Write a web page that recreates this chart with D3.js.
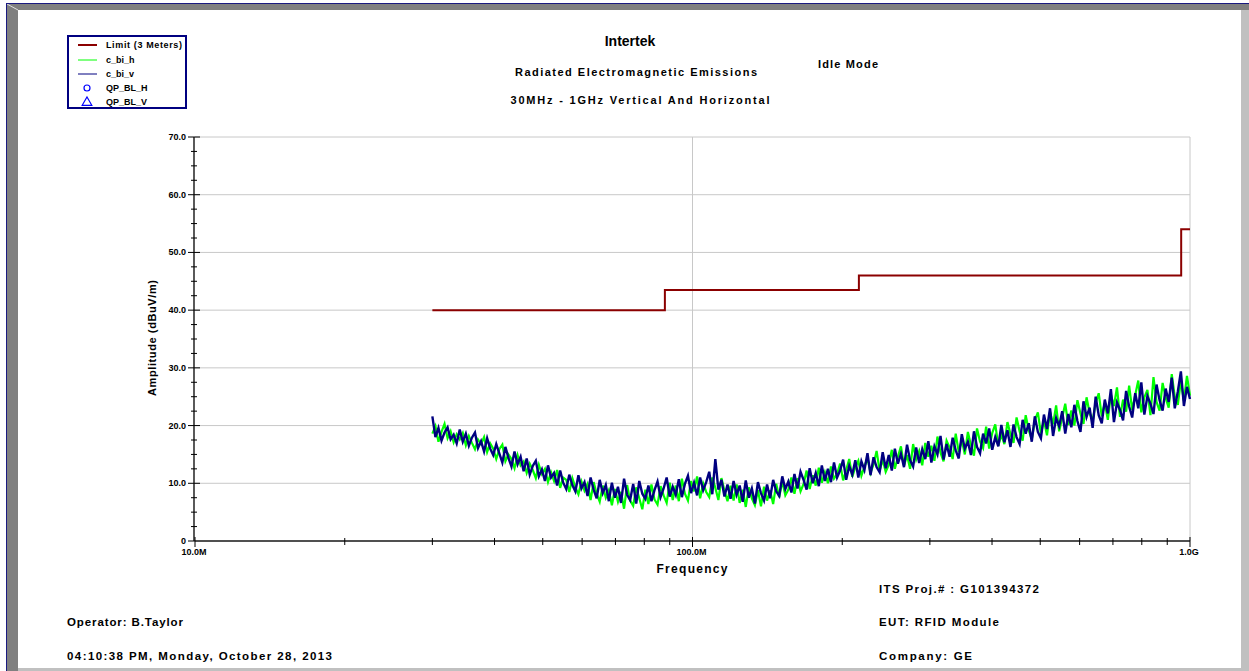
<!DOCTYPE html>
<html>
<head>
<meta charset="utf-8">
<script src="https://cdn.jsdelivr.net/npm/d3@7"></script>
<style>
  body { margin: 0; background: #fff; }
  text { font-family: Arial, "Liberation Sans", sans-serif; font-weight: bold; fill: #000; }
</style>
</head>
<body>
<div id="chart"></div>
<script>
// ---- data ----
var yTickValues = [0, 10, 20, 30, 40, 50, 60, 70];
var yTickLabels = ["0", "10.0", "20.0", "30.0", "40.0", "50.0", "60.0", "70.0"];
var xTickValues = [10, 100, 1000];           // MHz
var xTickLabels = ["10.0M", "100.0M", "1.0G"];

// limit line (3 meters), step after each frequency
var limitFreqs = [30, 88, 216, 960, 1000];
var limitValues = [40, 43.5, 46, 54, 54];

// sweep 30 MHz .. 1 GHz
var sweepStartMHz = 30;
var sweepStopMHz = 1000;

var cBiV = [
  21.6, 18.0, 19.6, 17.4, 18.8, 19.7, 17.6, 18.4, 16.9, 19.3,
  17.2, 18.6, 16.5, 17.9, 18.8, 16.1, 17.3, 15.5, 17.8, 16.0,
  14.9, 16.8, 15.2, 13.6, 16.3, 14.4, 12.9, 15.5, 13.3, 14.6,
  12.1, 14.3, 11.5, 13.0, 13.9, 11.2, 12.4, 10.4, 13.1, 11.0,
  11.8, 9.6, 12.2, 10.1, 9.0, 11.5, 9.7, 8.6, 11.4, 9.1,
  10.2, 7.8, 11.0, 8.9, 7.4, 10.6, 8.3, 9.7, 6.9, 10.1,
  7.5, 9.4, 6.6, 10.8, 8.0, 7.1, 9.9, 6.5, 10.4, 8.2,
  7.3, 9.6, 6.9, 8.8, 10.3, 7.6, 9.1, 11.0, 7.7, 9.4,
  8.0, 10.7, 7.6, 9.9, 11.3, 8.3, 10.1, 7.9, 11.0, 8.8,
  10.2, 12.0, 8.1, 14.2, 8.9, 10.6, 7.7, 9.8, 7.3, 10.4,
  8.0, 9.6, 6.8, 10.5, 7.5, 9.1, 6.5, 10.2, 8.3, 7.0,
  9.8, 7.4, 10.6, 8.6, 7.8, 11.2, 9.0, 10.3, 8.4, 11.6,
  9.1, 12.0, 10.6, 8.9, 12.6, 10.0, 11.8, 9.5, 13.1, 10.4,
  12.5, 10.2, 13.6, 11.0, 12.2, 14.1, 10.6, 13.0, 11.5, 14.0,
  11.0, 13.8, 12.3, 15.2, 11.4, 14.5, 12.8, 11.9, 15.4, 12.6,
  14.9, 12.2, 16.0, 13.4, 15.1, 12.8, 16.7, 14.0, 12.9, 16.2,
  13.5, 15.9, 14.2, 17.3, 13.6, 16.4, 15.0, 18.2, 14.1, 16.8,
  14.6, 17.9, 15.7, 14.3, 18.5, 16.0, 17.2, 14.9, 19.0, 16.3,
  15.2, 18.6, 16.9, 19.5, 15.8, 18.0, 16.4, 20.1, 17.1, 19.2,
  16.3, 20.2, 18.0, 16.8, 21.0, 18.6, 20.4, 17.2, 21.6, 18.9,
  17.8, 21.9, 19.4, 23.0, 18.2, 21.3, 19.9, 22.5, 18.6, 22.0,
  19.7, 23.6, 20.8, 18.9, 24.2, 21.5, 23.1, 19.6, 25.0, 21.8,
  20.4, 24.5, 22.1, 26.3, 20.6, 24.0, 22.7, 20.9, 26.0, 23.3,
  21.4, 25.6, 23.0, 27.5, 21.9, 25.1, 23.8, 22.0, 27.1, 24.4,
  22.6, 26.4, 24.1, 28.3, 23.0, 25.9, 29.4, 23.4, 26.7, 24.6
];

var cBiH = [
  18.6, 19.9, 17.2, 18.9, 20.3, 17.8, 19.0, 17.1, 18.5, 17.6,
  18.7, 16.6, 18.2, 17.0, 15.9, 17.6, 16.8, 18.0, 15.4, 16.9,
  16.0, 14.2, 15.9, 16.7, 13.8, 15.0, 14.2, 12.6, 14.9, 13.1,
  13.8, 11.8, 13.4, 12.3, 10.9, 13.2, 11.6, 12.5, 10.2, 11.9,
  10.4, 12.3, 9.2, 11.0, 10.6, 8.5, 10.9, 9.3, 8.1, 10.3,
  8.7, 9.9, 7.1, 10.2, 8.2, 6.8, 9.6, 7.5, 8.8, 6.2,
  9.0, 6.8, 8.5, 5.6, 9.7, 7.0, 6.1, 9.3, 7.4, 5.5,
  8.9, 6.4, 9.8, 7.2, 6.3, 9.5, 7.9, 6.6, 10.1, 7.1,
  9.6, 6.9, 10.8, 8.2, 7.0, 10.4, 8.6, 11.2, 7.4, 10.0,
  8.5, 7.6, 11.0, 9.2, 7.1, 10.9, 8.7, 6.9, 9.6, 7.0,
  9.8, 6.6, 8.9, 5.9, 9.3, 7.4, 6.2, 8.8, 6.0, 9.4,
  7.0, 8.8, 6.4, 9.9, 7.6, 10.4, 7.9, 8.9, 11.0, 8.2,
  10.9, 8.6, 9.9, 12.2, 9.0, 11.4, 9.6, 12.7, 10.1, 11.9,
  10.0, 12.9, 10.8, 11.6, 13.4, 10.5, 12.3, 14.2, 11.1, 12.8,
  13.9, 11.3, 12.9, 14.4, 11.8, 13.3, 15.6, 12.2, 14.1, 12.0,
  13.2, 15.8, 12.5, 14.6, 16.4, 13.0, 14.9, 12.5, 16.8, 14.1,
  15.6, 13.1, 17.0, 14.6, 16.5, 13.9, 18.1, 15.3, 13.8, 17.4,
  16.2, 14.2, 18.6, 15.4, 17.5, 15.0, 18.9, 16.6, 14.8, 19.5,
  17.2, 16.1, 19.8, 16.0, 18.7, 20.2, 16.5, 18.4, 16.8, 20.6,
  18.5, 17.0, 21.4, 19.0, 17.4, 21.8, 19.2, 17.6, 20.9, 22.3,
  18.6, 20.9, 18.3, 22.4, 20.2, 23.5, 19.0, 21.4, 23.8, 20.1,
  22.6, 20.0, 24.4, 22.1, 20.3, 24.9, 22.2, 20.8, 23.9, 25.6,
  21.6, 23.9, 21.0, 25.4, 23.4, 26.6, 21.5, 24.5, 22.4, 26.9,
  22.7, 25.3, 27.8, 22.3, 24.9, 26.2, 21.8, 28.4, 24.1, 22.6,
  27.4, 24.8, 23.1, 28.9, 25.0, 23.6, 27.8, 24.3, 28.6, 25.2
];

var legendNames = ["Limit (3 Meters)", "c_bi_h", "c_bi_v", "QP_BL_H", "QP_BL_V"];

// ---- drawing ----
var W = 1249, H = 671;
var svg = d3.select("#chart").append("svg")
    .attr("width", W)
    .attr("height", H);

// window frame
svg.append("rect").attr("x", 0).attr("y", 0).attr("width", W).attr("height", H).attr("fill", "#fff");
svg.append("rect").attr("x", 6).attr("y", 3).attr("width", W - 6).attr("height", 7).attr("fill", "#808080");
svg.append("rect").attr("x", 6).attr("y", 3).attr("width", 12).attr("height", H - 3).attr("fill", "#808080");
svg.append("rect").attr("x", 1241).attr("y", 10).attr("width", 8).attr("height", H - 10).attr("fill", "#c0c0c0");
svg.append("rect").attr("x", 18).attr("y", 668).attr("width", W - 18).attr("height", 3).attr("fill", "#c0c0c0");
svg.append("line").attr("x1", 7).attr("y1", 4).attr("x2", 18).attr("y2", 10).attr("stroke", "#e0e0e0").attr("stroke-width", 1);
svg.append("line").attr("x1", 6).attr("y1", 3.5).attr("x2", W).attr("y2", 3.5).attr("stroke", "#1a1a80").attr("stroke-width", 1);
svg.append("line").attr("x1", 6.5).attr("y1", 3).attr("x2", 6.5).attr("y2", H).attr("stroke", "#1a1a80").attr("stroke-width", 1);

var xScale = d3.scaleLog()
    .domain([10, 1000])
    .range([195, 1190]);

var yScale = d3.scaleLinear()
    .domain([0, 70])
    .range([541, 137]);

// grid
svg.selectAll(".hgrid")
    .data(yTickValues.filter(function (d) { return d > 0; }))
    .enter().append("line")
    .attr("x1", xScale(10)).attr("x2", xScale(1000))
    .attr("y1", function (d) { return yScale(d); })
    .attr("y2", function (d) { return yScale(d); })
    .attr("stroke", "#c8c8c8").attr("stroke-width", 1);

svg.selectAll(".vgrid")
    .data([100, 1000])
    .enter().append("line")
    .attr("x1", function (d) { return xScale(d); })
    .attr("x2", function (d) { return xScale(d); })
    .attr("y1", yScale(70)).attr("y2", yScale(0))
    .attr("stroke", "#c8c8c8").attr("stroke-width", 1);

// y axis
var yAxisX = xScale(10) - 1;
svg.append("line")
    .attr("x1", yAxisX).attr("x2", yAxisX)
    .attr("y1", yScale(70)).attr("y2", yScale(0))
    .attr("stroke", "#000").attr("stroke-width", 1.3);

svg.selectAll(".yminor")
    .data(d3.range(0, 70.01, 2.5).filter(function (d) { return d % 10 !== 0; }))
    .enter().append("line")
    .attr("x1", yAxisX - 3).attr("x2", yAxisX + 3)
    .attr("y1", function (d) { return yScale(d); })
    .attr("y2", function (d) { return yScale(d); })
    .attr("stroke", "#000").attr("stroke-width", 1);

svg.selectAll(".ymajor")
    .data(yTickValues)
    .enter().append("line")
    .attr("x1", yAxisX - 6).attr("x2", yAxisX + 6)
    .attr("y1", function (d) { return yScale(d); })
    .attr("y2", function (d) { return yScale(d); })
    .attr("stroke", "#000").attr("stroke-width", 1);

svg.selectAll(".ylabel")
    .data(yTickValues)
    .enter().append("text")
    .attr("x", yAxisX - 8)
    .attr("y", function (d) { return yScale(d) + 3; })
    .attr("text-anchor", "end")
    .style("font-size", "9px")
    .text(function (d, i) { return yTickLabels[i]; });

// x axis
svg.append("line")
    .attr("x1", xScale(10)).attr("x2", xScale(1000))
    .attr("y1", yScale(0)).attr("y2", yScale(0))
    .attr("stroke", "#505050").attr("stroke-width", 2);

var xMinor = [];
[10, 100].forEach(function (dec) {
    for (var k = 2; k <= 9; k++) xMinor.push(dec * k);
});

svg.selectAll(".xminor")
    .data(xMinor)
    .enter().append("line")
    .attr("x1", function (d) { return xScale(d); })
    .attr("x2", function (d) { return xScale(d); })
    .attr("y1", yScale(0) - 3).attr("y2", yScale(0) + 4)
    .attr("stroke", "#000").attr("stroke-width", 1);

svg.selectAll(".xmajor")
    .data(xTickValues)
    .enter().append("line")
    .attr("x1", function (d) { return xScale(d); })
    .attr("x2", function (d) { return xScale(d); })
    .attr("y1", yScale(0) - 4).attr("y2", yScale(0) + 6)
    .attr("stroke", "#000").attr("stroke-width", 1);

svg.selectAll(".xlabel")
    .data(xTickValues)
    .enter().append("text")
    .attr("x", function (d) { return xScale(d) - 1; })
    .attr("y", yScale(0) + 14)
    .attr("text-anchor", "middle")
    .style("font-size", "9px")
    .text(function (d, i) { return xTickLabels[i]; });

// axis titles
svg.append("text")
    .attr("x", 692).attr("y", 573)
    .attr("text-anchor", "middle")
    .attr("textLength", 71).attr("lengthAdjust", "spacing")
    .style("font-size", "12px")
    .text("Frequency");

svg.append("text")
    .attr("transform", "translate(156,338) rotate(-90)")
    .attr("text-anchor", "middle")
    .attr("textLength", 116).attr("lengthAdjust", "spacing")
    .style("font-size", "11px")
    .text("Amplitude (dBuV/m)");

// traces, points on a log-spaced sweep grid between start and stop
function sweepFreq(i, n) {
    return sweepStartMHz * Math.pow(sweepStopMHz / sweepStartMHz, i / (n - 1));
}

var trace = d3.line()
    .x(function (d, i, arr) { return xScale(sweepFreq(i, arr.length)); })
    .y(function (d) { return yScale(d); });

svg.append("path")
    .datum(cBiH)
    .attr("d", trace)
    .attr("fill", "none")
    .attr("stroke", "#00ff00")
    .attr("stroke-width", 2.2);

svg.append("path")
    .datum(cBiV)
    .attr("d", trace)
    .attr("fill", "none")
    .attr("stroke", "#000080")
    .attr("stroke-width", 2.4);

// limit line
var limitLine = d3.line()
    .x(function (d) { return xScale(d); })
    .y(function (d, i) { return yScale(limitValues[i]); })
    .curve(d3.curveStepAfter);

svg.append("path")
    .datum(limitFreqs)
    .attr("d", limitLine)
    .attr("fill", "none")
    .attr("stroke", "#8b0000")
    .attr("stroke-width", 2);

// titles
svg.append("text").attr("x", 630).attr("y", 46).attr("text-anchor", "middle")
    .style("font-size", "14px").text("Intertek");
svg.append("text").attr("x", 636).attr("y", 76).attr("text-anchor", "middle")
    .attr("textLength", 242).attr("lengthAdjust", "spacing")
    .style("font-size", "11px").text("Radiated Electromagnetic Emissions");
svg.append("text").attr("x", 640).attr("y", 104).attr("text-anchor", "middle")
    .attr("textLength", 259).attr("lengthAdjust", "spacing")
    .style("font-size", "11px").text("30MHz - 1GHz Vertical And Horizontal");
svg.append("text").attr("x", 848).attr("y", 68).attr("text-anchor", "middle")
    .attr("textLength", 60).attr("lengthAdjust", "spacing")
    .style("font-size", "11px").text("Idle Mode");

// footer
var footer = [
    { x: 67, y: 626, w: 116, t: "Operator: B.Taylor" },
    { x: 67, y: 660, w: 265, t: "04:10:38 PM, Monday, October 28, 2013" },
    { x: 879, y: 593, w: 160, t: "ITS Proj.# : G101394372" },
    { x: 879, y: 626, w: 120, t: "EUT: RFID Module" },
    { x: 879, y: 660, w: 93, t: "Company: GE" }
];
svg.selectAll(".footer")
    .data(footer)
    .enter().append("text")
    .attr("x", function (d) { return d.x; })
    .attr("y", function (d) { return d.y; })
    .attr("textLength", function (d) { return d.w; })
    .attr("lengthAdjust", "spacing")
    .style("font-size", "11.5px")
    .text(function (d) { return d.t; });

// legend
var legend = svg.append("g");
var rowY = [45, 60, 74, 88, 102];

legend.append("line").attr("x1", 78).attr("x2", 97).attr("y1", rowY[0]).attr("y2", rowY[0])
    .attr("stroke", "#8b0000").attr("stroke-width", 2);
legend.append("line").attr("x1", 78).attr("x2", 97).attr("y1", rowY[1]).attr("y2", rowY[1])
    .attr("stroke", "#00ff00").attr("stroke-width", 1);
legend.append("line").attr("x1", 78).attr("x2", 97).attr("y1", rowY[2]).attr("y2", rowY[2])
    .attr("stroke", "#000080").attr("stroke-width", 1);
legend.append("circle").attr("cx", 87).attr("cy", rowY[3]).attr("r", 3)
    .attr("fill", "none").attr("stroke", "#0000ff").attr("stroke-width", 1.2);
legend.append("path").attr("d", d3.symbol().type(d3.symbolTriangle).size(40)())
    .attr("transform", "translate(87," + (rowY[4] + 0.5) + ")")
    .attr("fill", "none").attr("stroke", "#0000ff").attr("stroke-width", 1.2);

legend.selectAll(".lt")
    .data(legendNames)
    .enter().append("text")
    .attr("x", 106)
    .attr("y", function (d, i) { return rowY[i] + 3; })
    .attr("textLength", function (d, i) { return i === 0 ? 76 : null; })
    .attr("lengthAdjust", "spacing")
    .style("font-size", "9px")
    .text(function (d) { return d; });

legend.append("rect")
    .attr("x", 68).attr("y", 36).attr("width", 118).attr("height", 72)
    .attr("fill", "none").attr("stroke", "#000080").attr("stroke-width", 2);
</script>
</body>
</html>
